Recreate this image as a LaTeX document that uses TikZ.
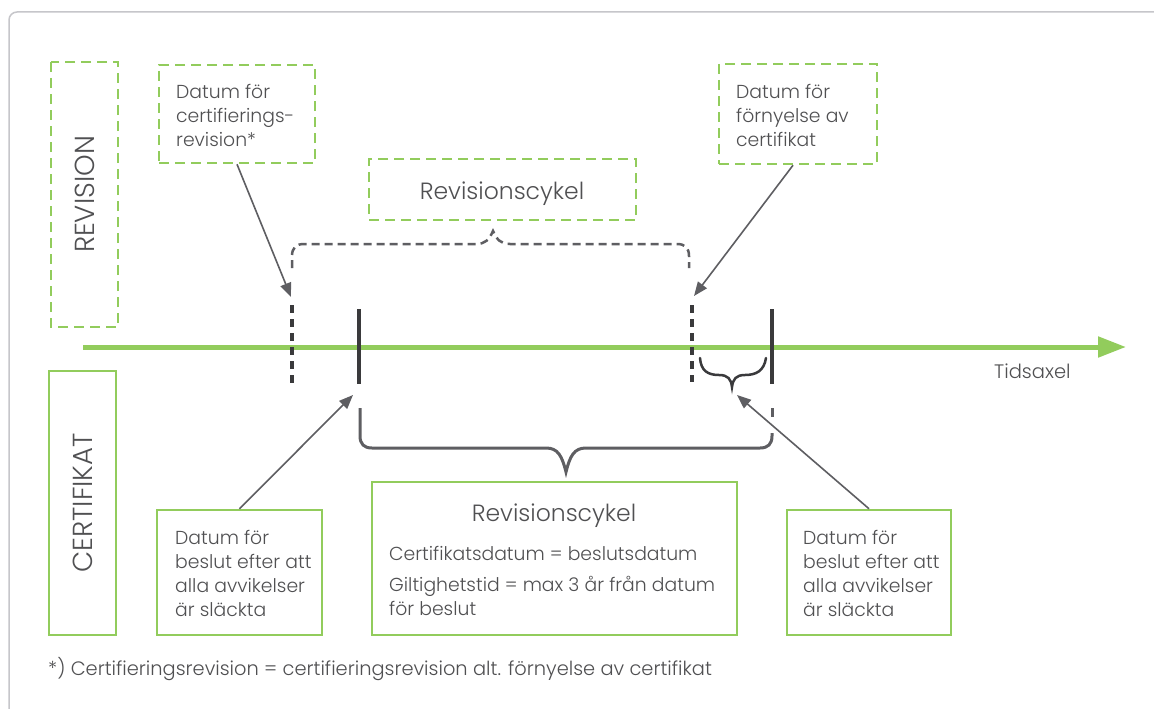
\documentclass[tikz,border=0pt]{standalone}
\usepackage{fontspec}
\setmainfont{Poppins}[UprightFont={* Light}]
\usetikzlibrary{arrows.meta}
\definecolor{ggreen}{HTML}{92CC5C}
\definecolor{tgray}{HTML}{505052}
\definecolor{agray}{HTML}{5E5E62}
\definecolor{dgray}{HTML}{3A3A3C}
\definecolor{fgray}{HTML}{C6C6CA}
\begin{document}
\begin{tikzpicture}[x=1pt,y=-1pt,
  gdash/.style={draw=ggreen, line width=2.5pt, dash pattern=on 10pt off 6pt, inner sep=0},
  gsolid/.style={draw=ggreen, line width=2.5pt, inner sep=0},
  txt/.style={text=tgray, align=left, inner sep=0, anchor=north west, font=\fontsize{18.8}{24}\selectfont},
  bigtxt/.style={text=tgray, inner sep=0, anchor=base, font=\fontsize{23.5}{26}\selectfont},
  sidetxt/.style={text=tgray, font=\fontsize{27.5}{30}\selectfont},
  ptr/.style={draw=agray, line width=1.6pt, -{Triangle[length=14pt,width=11pt]}},
  tickmark/.style={draw=dgray, line width=3.5pt},
  dtickmark/.style={draw=dgray, line width=3.5pt, dash pattern=on 8pt off 6pt},
]
\useasboundingbox (0,0) rectangle (1154,709);
\fill[white] (0,0) rectangle (1154,709);
% outer frame
\draw[fgray, line width=1.5pt, rounded corners=8pt] (1154,12) -- (9,12) -- (9,709);

% side boxes
\node[gdash, rotate=90, minimum width=265, minimum height=67, sidetxt] (rev) at (84.5,194.5) {REVISION};
\node[gsolid, rotate=90, minimum width=264, minimum height=67, sidetxt] (cert) at (82.5,503) {CERTIFIKAT};

% top boxes
\node[gdash, minimum width=156, minimum height=98] (tl) at (237,114) {};
\node[txt] (tltxt) at (176,84) {Datum för\\certifierings-\\revision*};
\node[gdash, minimum width=267, minimum height=61] (tm) at (502.5,189.5) {};
\node[bigtxt] (tmtxt) at (502,199) {Revisionscykel};
\node[gdash, minimum width=158, minimum height=100] (tr) at (798,114) {};
\node[txt] (trtxt) at (736,84) {Datum för\\förnyelse av\\certifikat};

% bottom boxes
\node[gsolid, minimum width=165, minimum height=125] (bl) at (239.5,572.5) {};
\node[txt] (bltxt) at (175,530) {Datum för\\beslut efter att\\alla avvikelser\\är släckta};
\node[gsolid, minimum width=365, minimum height=153] (bm) at (554.5,558.5) {};
\node[bigtxt] (bmtitle) at (554,521) {Revisionscykel};
\node[txt] (bmtxt) at (389,546) {Certifikatsdatum = beslutsdatum\\[7pt]Giltighetstid = max 3 år från datum\\för beslut};
\node[gsolid, minimum width=164, minimum height=125] (br) at (869,572.5) {};
\node[txt] (brtxt) at (803,530) {Datum för\\beslut efter att\\alla avvikelser\\är släckta};

% timeline
\coordinate (t0) at (83,347);
\coordinate (t1) at (1126,347);
\draw[ggreen, line width=5pt, -{Triangle[length=28pt,width=20pt]}] (t0) -- (t1);
\node[text=tgray, inner sep=0, anchor=base west, font=\fontsize{19.5}{22}\selectfont] (tid) at (994,378) {Tidsaxel};

% marks on the time axis
\coordinate (d1a) at (292,305); \coordinate (d1b) at (292,384);
\coordinate (s1a) at (359,309); \coordinate (s1b) at (359,384);
\coordinate (d2a) at (692,305); \coordinate (d2b) at (692,382);
\coordinate (s2a) at (772,309); \coordinate (s2b) at (772,384);
\draw[dtickmark] (d1a) -- (d1b);
\draw[dtickmark] (d2a) -- (d2b);
\draw[tickmark] (s1a) -- (s1b);
\draw[tickmark] (s2a) -- (s2b);

% small brace under axis
\draw[dgray, line width=2.5pt, line cap=round]
  (700,358) .. controls (701,371) and (708,375) .. (719,375)
  .. controls (728,375) and (731,379) .. (732,387)
  .. controls (733,379) and (736,375) .. (745,375)
  .. controls (756,375) and (764,371) .. (766,358);

% top dashed brace
\draw[agray, line width=2.5pt, dash pattern=on 8pt off 5pt]
  (292,268) -- (292,256) .. controls (292,248) and (296,244) .. (304,244)
  -- (476,244) .. controls (485,244) and (489,240) .. (493,231)
  .. controls (497,240) and (501,244) .. (510,244)
  -- (677,244) .. controls (685,244) and (689,248) .. (689,256) -- (689,268);

% bottom solid brace
\draw[agray, line width=3pt]
  (360,408) -- (360,436) .. controls (360,444) and (364,448) .. (372,448)
  -- (546,448) .. controls (558,448) and (562,456) .. (566,472)
  .. controls (570,456) and (574,448) .. (586,448)
  -- (760,448) .. controls (768,448) and (772,444) .. (772,436) -- (772,433);
\draw[agray, line width=3pt] (772,408) -- (772,417);

% pointers
\coordinate (p1) at (291,297);
\coordinate (p2) at (694,296);
\coordinate (p3) at (353,395);
\coordinate (p4) at (737,395);
\draw[ptr] (tl.south) -- (p1);
\draw[ptr] ([xshift=-5pt]tr.south) -- (p2);
\draw[ptr] (bl.north) -- (p3);
\draw[ptr] (br.north) -- (p4);

% footnote
\node[text=tgray, inner sep=0, anchor=base west, font=\fontsize{19.4}{22}\selectfont] (fn) at (48,675) {*) Certifieringsrevision = certifieringsrevision alt. förnyelse av certifikat};
\end{tikzpicture}
\end{document}
